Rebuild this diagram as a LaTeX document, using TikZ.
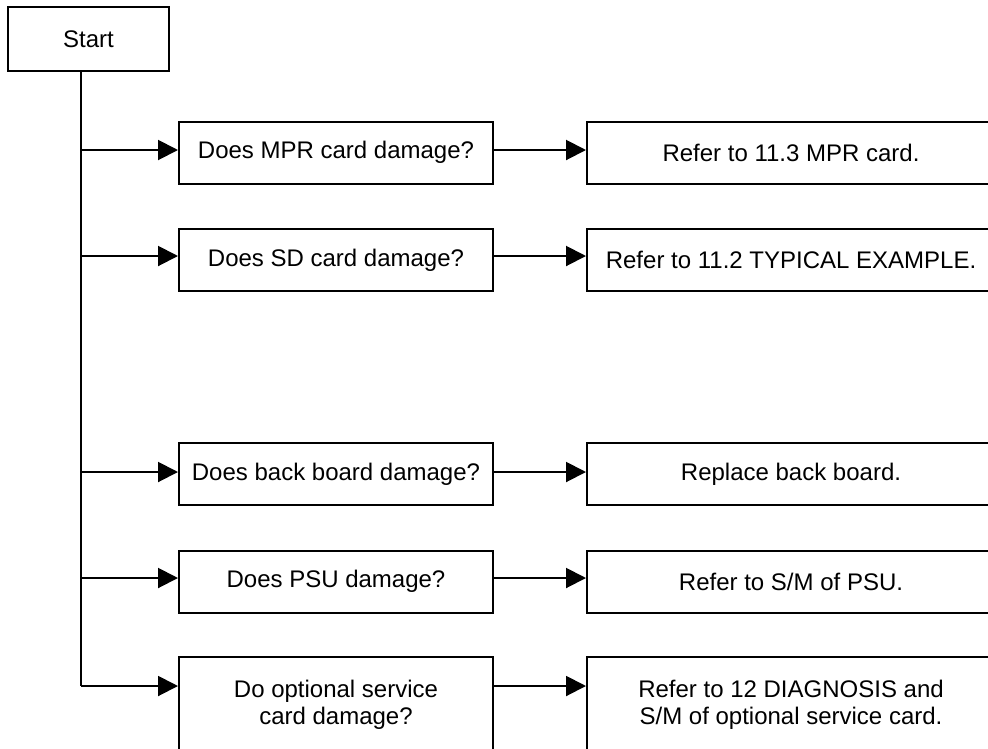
\documentclass[tikz,border=0pt]{standalone}
\usepackage{fontspec}
\setmainfont{Liberation Sans}
\usetikzlibrary{arrows.meta}
\begin{document}
\begin{tikzpicture}[x=1pt,y=-1pt,
  box/.style={draw=black,line width=2pt,inner sep=0pt,align=center,
    font=\fontsize{24pt}{27pt}\selectfont},
  qbox/.style={box,minimum width=314pt,minimum height=62pt},
  rbox/.style={box,minimum width=408pt,minimum height=62pt},
  conn/.style={line width=2pt},
  arr/.style={conn,-{Triangle[length=20pt,width=20pt]}}]
\useasboundingbox (0,0) rectangle (988,748);
\clip (0,0) rectangle (988,748);
% start
\node[box,minimum width=161pt,minimum height=64pt] (start) at (88.5,39) {Start};
% questions
\node[qbox] (q1) at (336,152.5) {Does MPR card damage?};
\node[qbox] (q2) at (336,260) {Does SD card damage?};
\node[qbox] (q3) at (336,474) {Does back board damage?};
\node[qbox] (q4) at (336,581.5) {Does PSU damage?};
\node[qbox,minimum height=96pt] (q5) at (336,705) {Do optional service\\card damage?};
% results
\node[rbox] (r1) at (791,152.5) {Refer to 11.3 MPR card.};
\node[rbox] (r2) at (791,260) {Refer to 11.2 TYPICAL EXAMPLE.};
\node[rbox] (r3) at (791,474) {Replace back board.};
\node[rbox] (r4) at (791,581.5) {Refer to S/M of PSU.};
\node[rbox,minimum height=96pt] (r5) at (791,705) {Refer to 12 DIAGNOSIS and\\S/M of optional service card.};
% trunk junctions
\coordinate (j1) at (81,150);
\coordinate (j2) at (81,256);
\coordinate (j3) at (81,472);
\coordinate (j4) at (81,578);
\coordinate (j5) at (81,686);
\draw[conn] (start.south -| j1) -- (j5);
\foreach \i in {1,...,5}{
  \draw[arr] (j\i) -- (j\i -| q\i.west);
  \draw[arr] (j\i -| q\i.east) -- (j\i -| r\i.west);
}
\end{tikzpicture}
\end{document}
